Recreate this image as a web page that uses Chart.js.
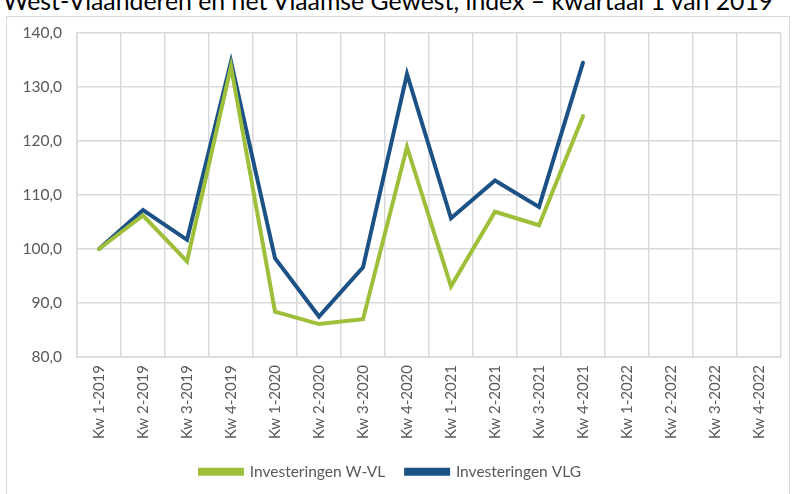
<!DOCTYPE html>
<html>
<head>
<meta charset="utf-8">
<script src="https://cdn.jsdelivr.net/npm/chart.js@4/dist/chart.umd.min.js"></script>
<style>
  html, body { margin: 0; padding: 0; background: #fff; overflow: hidden; }
  #wrap { position: relative; width: 795px; height: 494px; }
  #frame { position: absolute; left: 6px; top: 16px; width: 784px; height: 500px; border: 1px solid #d9d9d9; box-sizing: border-box; }
  #title { position: absolute; left: 3px; top: -14.5px; font-family: Lato, sans-serif; font-size: 24.8px; color: #000; white-space: nowrap; line-height: 30px; }
  canvas { position: absolute; left: 0; top: 0; }
</style>
</head>
<body>
<div id="wrap">
  <div id="frame"></div>
  <div id="title">West-Vlaanderen en het Vlaamse Gewest, index – kwartaal 1 van 2019</div>
  <canvas id="c" width="795" height="494"></canvas>
</div>
<script>
const categories = ["Kw 1-2019","Kw 2-2019","Kw 3-2019","Kw 4-2019","Kw 1-2020","Kw 2-2020","Kw 3-2020","Kw 4-2020","Kw 1-2021","Kw 2-2021","Kw 3-2021","Kw 4-2021","Kw 1-2022","Kw 2-2022","Kw 3-2022","Kw 4-2022"];
const investeringenWVL = [100.0, 106.2, 97.7, 133.8, 88.4, 86.1, 87.0, 118.9, 93.1, 106.9, 104.4, 124.6, null, null, null, null];
const investeringenVLG = [100.0, 107.2, 101.7, 134.7, 98.3, 87.5, 96.6, 132.4, 105.7, 112.7, 107.8, 134.5, null, null, null, null];
const yTicks = [80, 90, 100, 110, 120, 130, 140];

const GREEN = '#9dbf3a';
const BLUE = '#1c5185';
const GRID = '#d9d9d9';
const TXT = '#595959';

const legendHeightFix = {
  id: 'legendHeightFix',
  beforeLayout(chart) {
    const lg = chart.legend;
    if (lg && !lg._patched) {
      const orig = lg.fit;
      lg.fit = function () { orig.call(this); this.height = 51; };
      lg._patched = true;
    }
  }
};

new Chart(document.getElementById('c'), {
  type: 'line',
  data: {
    labels: categories,
    datasets: [
      { label: 'Investeringen W-VL', data: investeringenWVL, borderColor: GREEN, backgroundColor: GREEN, borderWidth: 4, pointRadius: 0, tension: 0, spanGaps: false, borderCapStyle: 'round', borderJoinStyle: 'miter' },
      { label: 'Investeringen VLG', data: investeringenVLG, borderColor: BLUE, backgroundColor: BLUE, borderWidth: 4, pointRadius: 0, tension: 0, spanGaps: false, borderCapStyle: 'round', borderJoinStyle: 'miter' }
    ]
  },
  plugins: [legendHeightFix],
  options: {
    responsive: false,
    animation: false,
    layout: { padding: { left: 0, right: 14, top: 33, bottom: 0 } },
    plugins: {
      title: { display: false },
      tooltip: { enabled: false },
      legend: {
        position: 'bottom',
        labels: {
          boxWidth: 42,
          boxHeight: 4,
          padding: 21,
          color: TXT,
          font: { family: 'Lato', size: 15.5 }
        }
      }
    },
    scales: {
      x: {
        offset: true,
        grid: { offset: true, color: GRID, lineWidth: 1.5, drawTicks: false },
        border: { color: GRID, width: 1.5 },
        ticks: { color: TXT, font: { family: 'Lato', size: 15 }, minRotation: 90, maxRotation: 90, padding: 8, autoSkip: false },
        afterFit: (s) => { s.height = 86; }
      },
      y: {
        min: 80, max: 140,
        afterBuildTicks: (s) => { s.ticks = yTicks.map(v => ({ value: v })); },
        grid: { color: GRID, lineWidth: 1.5, drawTicks: false },
        border: { color: GRID, width: 1.5 },
        ticks: { color: TXT, font: { family: 'Lato', size: 15.5 }, padding: 15, callback: (v) => v.toFixed(1).replace('.', ',') },
        afterFit: (s) => { s.width = 77; }
      }
    }
  }
});
</script>
</body>
</html>
